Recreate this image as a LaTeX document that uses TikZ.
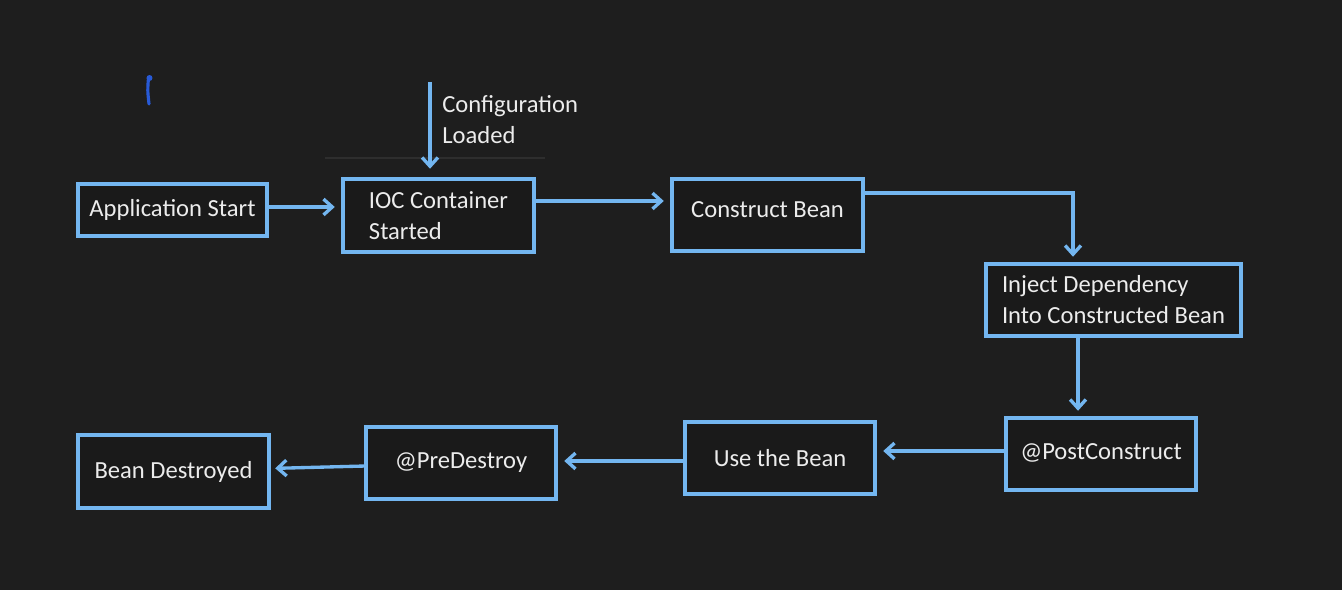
\documentclass[tikz,border=0pt]{standalone}
\usepackage{fontspec}
\setmainfont{Carlito}
\usepackage{xcolor}
\usepackage{tikz}
\usetikzlibrary{positioning, arrows.meta, calc}
\definecolor{BgDark}{RGB}{30,30,30}
\definecolor{BoxFill}{RGB}{26,26,26}
\definecolor{LineBlue}{RGB}{115,182,240}
\definecolor{InkBlue}{RGB}{40,90,215}
\definecolor{TextWhite}{RGB}{236,236,236}
\definecolor{FaintGrey}{RGB}{46,46,46}
\tikzset{
  stage/.style={draw=LineBlue, line width=2pt, fill=BoxFill, text=TextWhite,
    font=\fontsize{14}{17.6}\selectfont, inner sep=0pt, outer sep=0pt,
    minimum width=3.81cm, minimum height=1.45cm, align=center},
  flow/.style={-{Straight Barb[length=5pt, width=9pt]}, line width=1.9pt, LineBlue},
  note/.style={text=TextWhite, font=\fontsize{14}{17.6}\selectfont, align=left, inner sep=0pt},
}

\begin{document}
\begin{tikzpicture}[x=0.02cm, y=-0.02cm]
  % page and background
  \fill[BgDark] (0,0) rectangle (1342,590);
  \useasboundingbox (0,0) rectangle (1342,590);

  % stray pen mark and faint guide line
  \draw[InkBlue, line width=1.8pt, line cap=round] (148.5,78) .. controls (147.5,90) .. (149,104);
  \fill[InkBlue] (149.5,78) circle (1.7pt);
  \draw[FaintGrey, line width=0.6pt] (325,158) -- (545,158);

  % boxes
  \node[stage, minimum width=3.79cm, minimum height=1.05cm] (appstart) at (172.5,210) {Application Start};
  \node[stage, minimum width=3.83cm, minimum height=1.47cm, align=left] (ioc) at (438.5,215.5) {IOC Container\\Started};
  \node[stage, minimum width=3.83cm, text depth=6.8pt] (construct) at (767.5,215) {Construct Bean};
  \node[stage, minimum width=5.11cm, align=left] (inject) at (1113.5,300) {Inject Dependency\\Into Constructed Bean};
  \node[stage, text depth=3pt] (postconstruct) at (1101,454) {@PostConstruct};
  \node[stage] (usebean) at (780,458) {Use the Bean};
  \node[stage] (predestroy) at (461,463) {@PreDestroy};
  \node[stage, minimum width=3.83cm, minimum height=1.47cm] (beandestroyed) at (173.5,471.5) {Bean Destroyed};

  % config input
  \coordinate (cfgtop) at (430,82);
  \node[note, anchor=west] (cfglabel) at (442,119.5) {Configuration\\Loaded};

  % connectors
  \draw[flow, shorten >=0.16cm] ([yshift=0.06cm]appstart.east) -- ([yshift=0.06cm]appstart.east -| ioc.west);
  \draw[flow, shorten >=0.2cm] (cfgtop) -- (cfgtop |- ioc.north);
  \draw[flow, shorten >=0.16cm] ([yshift=0.29cm]ioc.east) -- ([yshift=0.29cm]ioc.east -| construct.west);
  \draw[flow, shorten >=0.14cm] ([yshift=0.44cm]construct.east) -| ([xshift=-0.81cm]inject.north);
  \draw[flow, shorten >=0.14cm] ([xshift=-0.71cm]inject.south) -- ([xshift=-0.71cm]inject.south |- postconstruct.north);
  \draw[flow, shorten >=0.16cm] ([yshift=0.06cm]postconstruct.west) -- ([yshift=0.06cm]postconstruct.west -| usebean.east);
  \draw[flow, shorten >=0.16cm] ([yshift=-0.06cm]usebean.west) -- ([yshift=-0.06cm]usebean.west -| predestroy.east);
  \draw[flow, shorten >=0.12cm] ([yshift=-0.06cm]predestroy.west) -- ([yshift=0.06cm]beandestroyed.east);
\end{tikzpicture}
\end{document}
